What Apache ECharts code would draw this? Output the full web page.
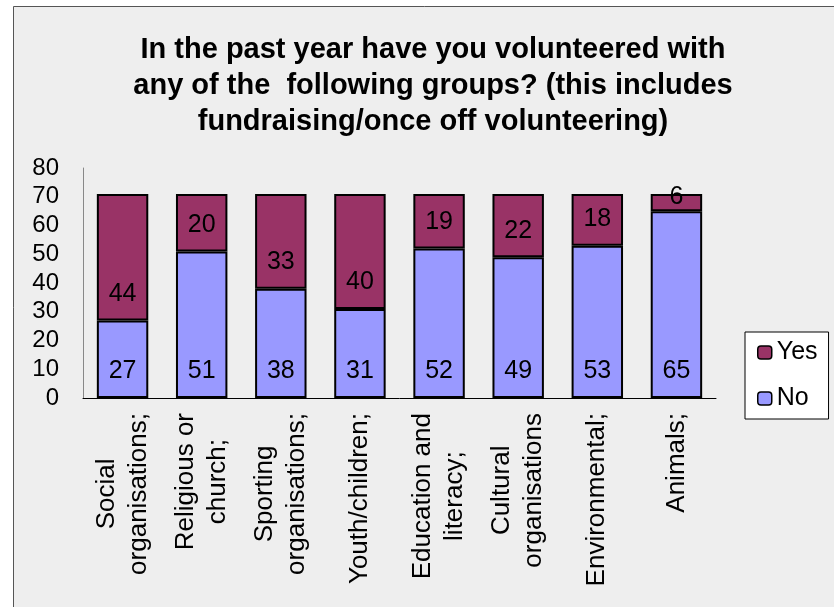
<!DOCTYPE html>
<html>
<head>
<meta charset="utf-8">
<script src="https://cdn.jsdelivr.net/npm/echarts@6/dist/echarts.min.js"></script>
<style>
  html, body { margin: 0; padding: 0; background: #ffffff; }
  #chart { width: 834px; height: 607px; }
</style>
</head>
<body>
<div id="chart"></div>
<script>
// Volunteering groups, stacked counts
const categories = [
  'Social\norganisations;',
  'Religious or\nchurch;',
  'Sporting\norganisations;',
  'Youth/children;',
  'Education and\nliteracy;',
  'Cultural\norganisations',
  'Environmental;',
  'Animals;'
];
const noValues = [27, 51, 38, 31, 52, 49, 53, 65];
const yesValues = [44, 20, 33, 40, 19, 22, 18, 6];
const yTicks = { min: 0, max: 80, interval: 10 };

const FONT = '"Liberation Sans", Arial, sans-serif';
const CAT_FONT_SIZE = 26;

const chart = echarts.init(document.getElementById('chart'), null, { renderer: 'canvas' });

// Value labels sit near the base of each segment; very short segments get a centred label
const baseLabel = {
  show: true,
  position: 'insideBottom',
  distance: 14,
  color: '#000',
  fontFamily: FONT,
  fontSize: 25
};
function withLabels(values) {
  return values.map(v => v < 10
    ? { value: v, label: { position: 'inside', offset: [0, -5] } }
    : v);
}

// Category labels: the lines of a two-line label are centred on each other.
// Shorter lines get a blank spacer at their axis end of half the width difference.
const measureCtx = document.createElement('canvas').getContext('2d');
measureCtx.font = CAT_FONT_SIZE + 'px ' + FONT;
const catRich = {
  c: { fontFamily: FONT, fontSize: CAT_FONT_SIZE, lineHeight: 32, color: '#000' }
};
const catText = {};
categories.forEach((name, i) => {
  const lines = name.split('\n');
  const widths = lines.map(l => measureCtx.measureText(l).width);
  const maxW = Math.max(...widths);
  catText[name] = lines.map((l, j) => {
    const gap = (maxW - widths[j]) / 2;
    if (gap < 1) return '{c|' + l + '}';
    const key = 'sp' + i + '_' + j;
    catRich[key] = { width: gap, fontSize: CAT_FONT_SIZE, lineHeight: 32 };
    return '{c|' + l + '}{' + key + '| }';
  }).join('\n');
});

chart.setOption({
  backgroundColor: '#ffffff',
  animation: false,
  graphic: [{
    type: 'rect',
    left: 13, top: 6,
    shape: { width: 830, height: 610 },
    style: { fill: '#eeeeee', stroke: '#555555', lineWidth: 1 },
    z: -10
  }],
  title: {
    text: 'In the past year have you volunteered with\nany of the  following groups? (this includes\nfundraising/once off volunteering)',
    left: 428,
    textAlign: 'center',
    top: 27,
    textStyle: {
      fontFamily: FONT,
      fontSize: 29,
      fontWeight: 'bold',
      color: '#000',
      lineHeight: 36
    }
  },
  legend: {
    orient: 'vertical',
    left: 745,
    top: 332,
    itemWidth: 14,
    itemHeight: 13,
    itemGap: 21,
    itemStyle: { borderColor: '#000', borderWidth: 1.5 },
    padding: [8, 11, 8, 12],
    backgroundColor: '#ffffff',
    borderColor: '#000',
    borderWidth: 1,
    borderRadius: 0,
    data: ['Yes', 'No'],
    textStyle: { fontFamily: FONT, fontSize: 25, color: '#000', lineHeight: 25 }
  },
  grid: {
    left: 83, top: 168, right: 118, bottom: 209,
    containLabel: false,
    outerBoundsMode: 'none'
  },
  xAxis: {
    type: 'category',
    data: categories,
    axisLine: { show: true, lineStyle: { color: '#000', width: 1 } },
    axisTick: { show: false },
    axisLabel: {
      rotate: 90,
      interval: 0,
      margin: 15,
      align: 'right',
      formatter: v => catText[v],
      rich: catRich
    }
  },
  yAxis: {
    type: 'value',
    min: yTicks.min,
    max: yTicks.max,
    interval: yTicks.interval,
    axisLine: { show: true, lineStyle: { color: '#888888', width: 1 } },
    axisTick: { show: false },
    splitLine: { show: false },
    axisLabel: {
      margin: 24,
      fontFamily: FONT,
      fontSize: 24,
      color: '#000'
    }
  },
  series: [
    {
      name: 'No',
      type: 'bar',
      stack: 'total',
      barWidth: '65%',
      data: withLabels(noValues),
      itemStyle: { color: '#9999ff', borderColor: '#000', borderWidth: 2 },
      label: baseLabel
    },
    {
      name: 'Yes',
      type: 'bar',
      stack: 'total',
      barWidth: '65%',
      data: withLabels(yesValues),
      itemStyle: { color: '#993366', borderColor: '#000', borderWidth: 2 },
      label: baseLabel
    }
  ]
});
</script>
</body>
</html>
